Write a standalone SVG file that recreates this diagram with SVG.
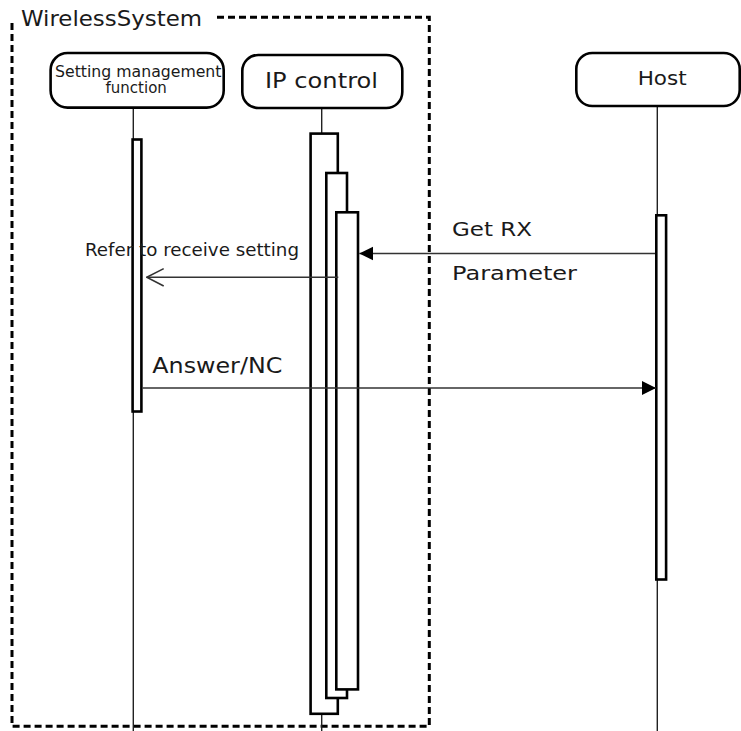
<svg xmlns="http://www.w3.org/2000/svg" width="741" height="731" viewBox="0 0 741 731">
<style>
text{font-family:"DejaVu Sans","Liberation Sans",sans-serif;fill:#1a1a1a}
.box{fill:#fff;stroke:#000;stroke-width:2.6}
.life{stroke:#222;stroke-width:1.4;fill:none}
.act{fill:#fff;stroke:#000;stroke-width:2.6}
.msg{stroke:#333;stroke-width:1.6;fill:none}
.frame{fill:none;stroke:#000;stroke-width:3;stroke-dasharray:7 4}
</style>
<defs>
<marker id="filled" markerUnits="userSpaceOnUse" markerWidth="16" markerHeight="16" viewBox="0 0 16 16" refX="14" refY="8" orient="auto">
<path d="M0,1 L14,8 L0,15 Z" fill="#000"/>
</marker>
<marker id="open" markerUnits="userSpaceOnUse" markerWidth="20" markerHeight="20" viewBox="0 0 20 20" refX="19" refY="10" orient="auto">
<path d="M2,1.3 L19,10 L2,18.7" fill="none" stroke="#333" stroke-width="1.6"/>
</marker>
</defs>
<rect width="741" height="731" fill="#fff"/>
<g id="frame">
<path class="frame" d="M217,17.3 H429.3 V726.3 H12 V20"/>
<text x="21" y="26" font-size="21" textLength="181" lengthAdjust="spacingAndGlyphs">WirelessSystem</text>
</g>
<g id="lifelines">
<line class="life" x1="133.3" y1="108" x2="133.3" y2="731"/>
<line class="life" x1="321.7" y1="108" x2="321.7" y2="731"/>
<line class="life" x1="657.3" y1="106" x2="657.3" y2="731"/>
</g>
<g id="node-setting">
<rect class="box" x="50.6" y="53" width="173.1" height="54.6" rx="17"/>
<text x="55" y="77" font-size="15" textLength="166.5" lengthAdjust="spacingAndGlyphs">Setting management</text>
<text x="136.2" y="93.2" font-size="15" text-anchor="middle">function</text>
<rect class="act" x="132.6" y="139.5" width="8.8" height="272"/>
</g>
<g id="node-ipcontrol">
<rect class="box" x="242.3" y="55" width="160" height="53" rx="16"/>
<text x="265" y="87.7" font-size="22" textLength="113" lengthAdjust="spacingAndGlyphs">IP control</text>
<rect class="act" x="310.6" y="133.6" width="27.2" height="580.2"/>
<rect class="act" x="326.3" y="173" width="20.7" height="525"/>
<rect class="act" x="336.3" y="212.3" width="21.7" height="477.1"/>
</g>
<g id="node-host">
<rect class="box" x="576.3" y="53" width="163.4" height="53" rx="16"/>
<text x="637.7" y="85" font-size="20" textLength="49" lengthAdjust="spacingAndGlyphs">Host</text>
<rect class="act" x="656.3" y="215.3" width="9.8" height="364.2"/>
</g>
<g id="connectors">
<line class="msg" x1="655" y1="253.5" x2="359.3" y2="253.5" marker-end="url(#filled)"/>
<text x="452" y="236" font-size="20" textLength="80" lengthAdjust="spacingAndGlyphs">Get RX</text>
<text x="452" y="280" font-size="20" textLength="125" lengthAdjust="spacingAndGlyphs">Parameter</text>
<line class="msg" x1="338.3" y1="277.3" x2="146.7" y2="277.3" marker-end="url(#open)"/>
<text x="85" y="256" font-size="17" textLength="214" lengthAdjust="spacingAndGlyphs">Refer to receive setting</text>
<line class="msg" x1="142.5" y1="388" x2="656" y2="388" marker-end="url(#filled)"/>
<text x="152.3" y="373.3" font-size="21" textLength="130" lengthAdjust="spacingAndGlyphs">Answer/NC</text>
</g>
</svg>
